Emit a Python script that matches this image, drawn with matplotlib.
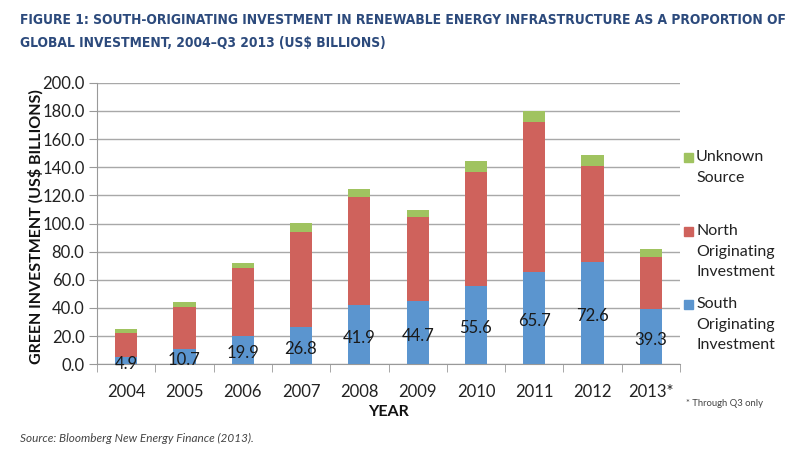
import matplotlib
matplotlib.use("Agg")
import matplotlib.pyplot as plt
from matplotlib import font_manager
import numpy as np

years = ["2004", "2005", "2006", "2007", "2008", "2009", "2010", "2011", "2012", "2013*"]
south = [4.9, 10.7, 19.9, 26.8, 41.9, 44.7, 55.6, 65.7, 72.6, 39.3]
north = [17.6, 30.2, 48.5, 67.4, 76.9, 60.2, 81.0, 106.4, 68.5, 37.1]
unknown = [2.6, 3.4, 3.8, 5.9, 5.5, 4.4, 7.5, 7.8, 7.3, 5.5]
yticks = [0, 20, 40, 60, 80, 100, 120, 140, 160, 180, 200]
legend_labels = ["Unknown\nSource", "North\nOriginating\nInvestment", "South\nOriginating\nInvestment"]

c_blue = "#5B95CF"
c_red = "#CF625C"
c_green = "#A0C360"

avail = {f.name for f in font_manager.fontManager.ttflist}
base = "Liberation Sans Narrow" if "Liberation Sans Narrow" in avail else "Lato"
plt.rcParams["font.family"] = [base, "DejaVu Sans"]

W, H = 798, 462
fig = plt.figure(figsize=(W / 100, H / 100), dpi=100)
ax = fig.add_axes([97 / W, 1 - 364.3 / H, (680 - 97) / W, (364.3 - 82.7) / H])

x = np.arange(len(years))
s = np.array(south)
n = np.array(north)
u = np.array(unknown)
bw = 0.38
ax.bar(x, s, bw, color=c_blue, zorder=3)
ax.bar(x, n, bw, bottom=s, color=c_red, zorder=3)
ax.bar(x, u, bw, bottom=s + n, color=c_green, zorder=3)

for xi, v in zip(x, s):
    ax.text(xi, v / 2 - 2.2, f"{v:.1f}", ha="center", va="center", fontsize=12,
            color="#1a1a1a", zorder=4)

ax.set_xlim(-0.5, len(years) - 0.5)
ax.set_ylim(0, 200)
ax.set_yticks(yticks)
ax.set_yticklabels([f"{t:.1f}" for t in yticks], fontsize=12, color="#222222")
ax.set_xticks(x)
ax.set_xticklabels(years, fontsize=12, color="#222222")
ax.set_xticks(np.arange(len(years) + 1) - 0.5, minor=True)
ax.tick_params(axis="x", which="major", length=0, pad=14)
ax.tick_params(axis="x", which="minor", length=6, color="#999999", direction="out")
ax.tick_params(axis="y", length=6, color="#999999", direction="out", pad=3)
ax.grid(axis="y", color="#A8A8A8", lw=1, zorder=0)
for sp in ["top", "right"]:
    ax.spines[sp].set_visible(False)
ax.spines["left"].set_color("#999999")
ax.spines["bottom"].set_color("#999999")

ax.set_ylabel("GREEN INVESTMENT (US$ BILLIONS)", fontsize=11.5, fontweight="bold",
              color="#111111")
ax.yaxis.set_label_coords(-0.092, 0.49)
ax.set_xlabel("YEAR", fontsize=11.5, fontweight="bold", color="#111111")
ax.xaxis.set_label_coords(0.5, -0.145)

# legend (manual)
leg_colors = [c_green, c_red, c_blue]
leg_y = [158, 232, 305]
for lab, col, ly in zip(legend_labels, leg_colors, leg_y):
    fig.patches.append(plt.Rectangle((684 / W, 1 - (ly + 4) / H), 9 / W, 9 / H,
                                     transform=fig.transFigure, color=col))
    fig.text(696 / W, 1 - (ly - 8) / H, lab, fontsize=11.5, color="#222222",
             va="top", ha="left", linespacing=1.6)

fig.text(686 / W, 1 - 404 / H, "* Through Q3 only", fontsize=6.8, color="#444444",
         va="center", ha="left")

fig.text(20 / W, 1 - 20 / H,
         "FIGURE 1: SOUTH-ORIGINATING INVESTMENT IN RENEWABLE ENERGY INFRASTRUCTURE AS A PROPORTION OF",
         fontsize=9.9, fontweight="bold", color="#2C4A7C", va="center", ha="left",
         family=["DejaVu Sans"], fontstretch="condensed")
fig.text(20 / W, 1 - 43 / H, "GLOBAL INVESTMENT, 2004–Q3 2013 (US$ BILLIONS)",
         fontsize=9.9, fontweight="bold", color="#2C4A7C", va="center", ha="left",
         family=["DejaVu Sans"], fontstretch="condensed")
fig.text(20 / W, 1 - 438 / H, "Source: Bloomberg New Energy Finance (2013).",
         fontsize=8.5, style="italic", color="#444444", va="center", ha="left")

fig.savefig("out.png", dpi=100)
